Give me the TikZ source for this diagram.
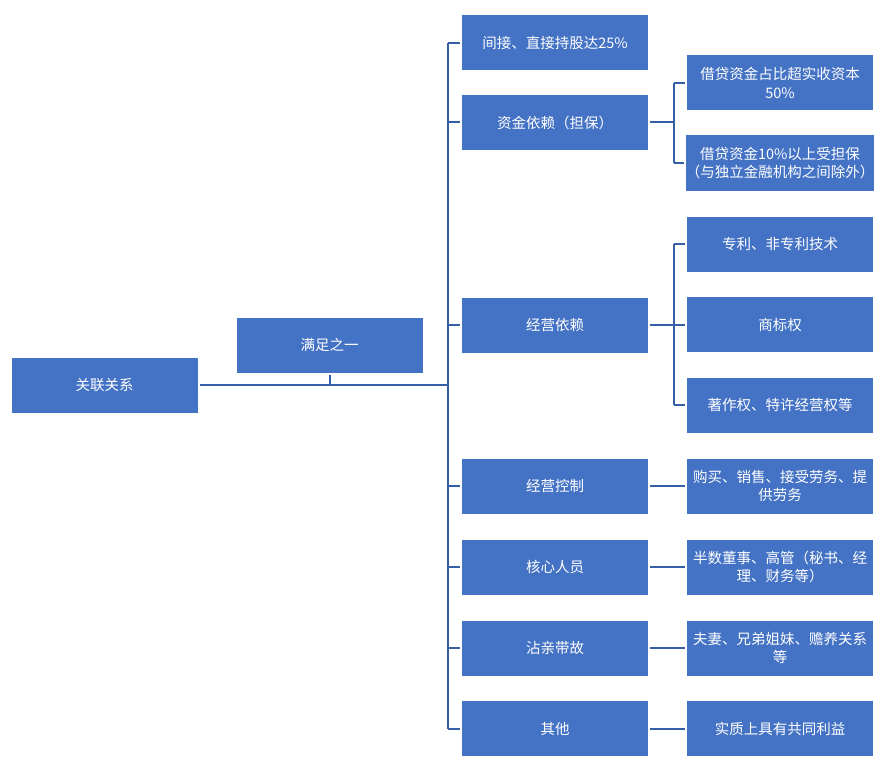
\documentclass[tikz,border=0pt]{standalone}
\usepackage{fontspec}
\newfontfamily\cjk{Noto Sans CJK SC}
\definecolor{boxblue}{HTML}{4472C4}
\definecolor{lineblue}{HTML}{3560A8}
\begin{document}
\begin{tikzpicture}[x=1pt,y=-1pt,
  box/.style={fill=boxblue, text=white, minimum width=186pt, minimum height=55pt, inner sep=0pt, align=center, font=\cjk\fontsize{14.5}{18.5}\selectfont},
  conn/.style={draw=lineblue, line width=2pt}]
\useasboundingbox (0,0) rectangle (889,765);
\fill[white] (0,0) rectangle (889,765);
% level 1
\node[box] (rel) at (104.5,385) {关联关系};
\node[box] (sat) at (329.5,345) {满足之一};
% level 2
\node[box] (a1) at (555,43) {间接、直接持股达25\%};
\node[box] (a2) at (555,122.5) {资金依赖（担保）};
\node[box] (a3) at (555,325) {经营依赖};
\node[box] (a4) at (555,486) {经营控制};
\node[box] (a5) at (555,567) {核心人员};
\node[box] (a6) at (555,648) {沾亲带故};
\node[box] (a7) at (555,728.5) {其他};
% level 3
\node[box] (b1) at (780,83) {借贷资金占比超实收资本\\50\%};
\node[box] (b2) at (780,163) {借贷资金10\%以上受担保\\（与独立金融机构之间除外）};
\node[box] (c1) at (780,244) {专利、非专利技术};
\node[box] (c2) at (780,324.5) {商标权};
\node[box] (c3) at (780,405) {著作权、特许经营权等};
\node[box] (d) at (780,486) {购买、销售、接受劳务、提\\供劳务};
\node[box] (e) at (780,567) {半数董事、高管（秘书、经\\理、财务等）};
\node[box] (f) at (780,648) {夫妻、兄弟姐妹、赡养关系\\等};
\node[box] (g) at (780,728.5) {实质上具有共同利益};
% hub lines
\coordinate (hub) at (448,385);
\coordinate (s2) at (674,0);
\draw[conn] ([xshift=2pt]rel.east) -- (hub);
\draw[conn] ([yshift=-2pt]sat.south) -- (sat.south|-hub);
\draw[conn] (hub|-a1.west) -- (hub|-a7.west);
\foreach \n in {a1,a2,a3,a4,a5,a6,a7}
  \draw[conn] (hub|-\n.west) -- ([xshift=-2pt]\n.west);
% 资金依赖 branch
\draw[conn] ([xshift=2pt]a2.east) -- (s2|-a2.east);
\draw[conn] (s2|-b1.west) -- (s2|-b2.west);
\foreach \n in {b1,b2}
  \draw[conn] (s2|-\n.west) -- ([xshift=-2pt]\n.west);
% 经营依赖 branch
\draw[conn] ([xshift=2pt]a3.east) -- (s2|-a3.east);
\draw[conn] (s2|-c1.west) -- (s2|-c3.west);
\foreach \n in {c1,c2,c3}
  \draw[conn] (s2|-\n.west) -- ([xshift=-2pt]\n.west);
% single links
\draw[conn] ([xshift=2pt]a4.east) -- ([xshift=-2pt]d.west);
\draw[conn] ([xshift=2pt]a5.east) -- ([xshift=-2pt]e.west);
\draw[conn] ([xshift=2pt]a6.east) -- ([xshift=-2pt]f.west);
\draw[conn] ([xshift=2pt]a7.east) -- ([xshift=-2pt]g.west);
\end{tikzpicture}
\end{document}
